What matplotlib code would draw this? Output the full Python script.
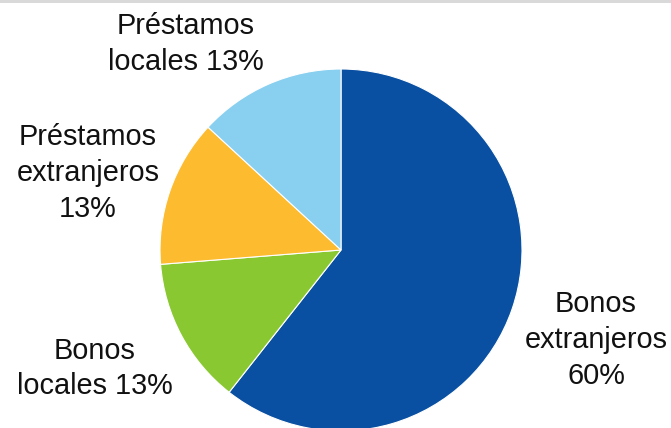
import matplotlib.pyplot as plt
from matplotlib.patches import Rectangle

# composición de la deuda
categorias = ['Bonos\nextranjeros', 'Bonos\nlocales', 'Préstamos\nextranjeros', 'Préstamos\nlocales']
porcentajes = [60, 13, 13, 13]
colores = ['#0A50A2', '#8AC832', '#FDBB30', '#89CFF0']

plt.rcParams['font.family'] = ['Liberation Sans', 'DejaVu Sans']

fig = plt.figure(figsize=(6.71, 4.28), dpi=100)

# banda gris superior
fig.add_artist(Rectangle((0, 1 - 2.5 / 428), 1, 2.5 / 428, transform=fig.transFigure,
                         facecolor='#D9D9D9', edgecolor='none'))

ax = fig.add_axes([160 / 671, -3 / 428, 362 / 671, 362 / 428])
wedges, _ = ax.pie(porcentajes, colors=colores, startangle=90, counterclock=False,
                   radius=1, wedgeprops=dict(edgecolor='white', linewidth=0.8))
ax.set_xlim(-1, 1)
ax.set_ylim(-1, 1)
ax.set_aspect('equal')
ax.axis('off')

etiquetas = {
    0: ('Bonos\nextranjeros\n{}%', 1.409, -0.497),
    1: ('Bonos\nlocales {}%', -1.359, -0.655),
    2: ('Préstamos\nextranjeros\n{}%', -1.398, 0.425),
    3: ('Préstamos\nlocales {}%', -0.856, 1.14),
}
for i, (txt, x, y) in etiquetas.items():
    ax.text(x, y, txt.format(porcentajes[i]), ha='center', va='center',
            fontsize=20.8, linespacing=1.35, color='#111111', clip_on=False)

plt.savefig('out.png', dpi=100)
